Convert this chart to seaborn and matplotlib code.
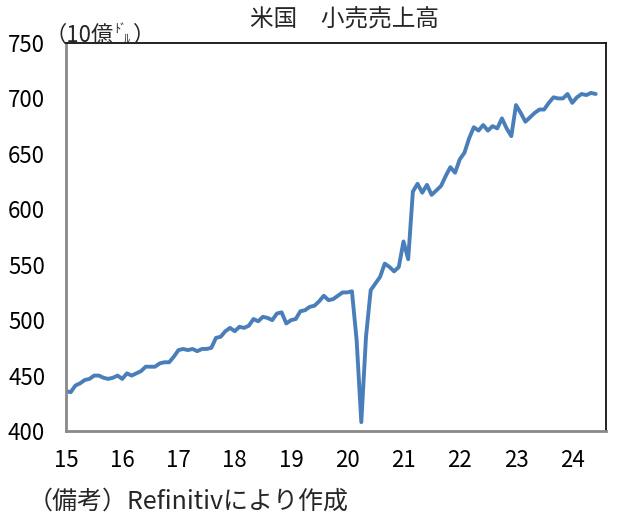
import numpy as np
import pandas as pd
import matplotlib
matplotlib.use("Agg")
import matplotlib.pyplot as plt
import seaborn as sns

# Monthly US retail sales (billion USD), Jan 2015 - Jun 2024
sales_2015 = [436, 435, 441, 443, 446, 447, 450, 450, 448, 447, 448, 450]
sales_2016 = [447, 452, 450, 452, 454, 458, 458, 458, 461, 462, 462, 467]
sales_2017 = [473, 474, 473, 474, 472, 474, 474, 475, 484, 485, 490, 493]
sales_2018 = [490, 494, 493, 495, 501, 499, 503, 502, 500, 506, 507, 497]
sales_2019 = [500, 501, 508, 509, 512, 513, 517, 522, 518, 519, 522, 525]
sales_2020 = [525, 526, 482, 408, 485, 527, 533, 539, 551, 548, 544, 548]
sales_2021 = [571, 555, 616, 623, 615, 622, 613, 617, 621, 630, 638, 633]
sales_2022 = [645, 651, 664, 674, 671, 676, 671, 675, 673, 682, 673, 666]
sales_2023 = [694, 687, 679, 683, 687, 690, 690, 696, 701, 700, 700, 704]
sales_2024 = [696, 701, 704, 703, 705, 704]

year_ticks = list(range(2015, 2025))
year_labels = [str(y)[2:] for y in year_ticks]
y_ticks = [400, 450, 500, 550, 600, 650, 700, 750]

sales = (sales_2015 + sales_2016 + sales_2017 + sales_2018 + sales_2019
         + sales_2020 + sales_2021 + sales_2022 + sales_2023 + sales_2024)
df = pd.DataFrame({"t": 2015 + np.arange(len(sales)) / 12, "sales": sales})

sns.set_style("white")
plt.rcParams["font.family"] = ["Noto Sans CJK JP", "DejaVu Sans"]

W, H = 617, 519
fig = plt.figure(figsize=(W / 100, H / 100), dpi=100)
ax = fig.add_axes([66 / W, 1 - 431 / H, (606 - 66) / W, (431 - 43) / H])

sns.lineplot(data=df, x="t", y="sales", ax=ax, color="#4a7ebb", linewidth=2.8,
             solid_capstyle="round", solid_joinstyle="round")

ax.set_xlim(2015, 2024.6)
ax.set_ylim(400, 750)
ax.set_xticks(year_ticks)
ax.set_xticklabels(year_labels)
ax.set_yticks(y_ticks)
ax.set_xlabel("")
ax.set_ylabel("")

for side in ["left", "bottom"]:
    ax.spines[side].set_color("#898989")
    ax.spines[side].set_linewidth(2)
for side in ["top", "right"]:
    ax.spines[side].set_color("#111111")
    ax.spines[side].set_linewidth(1.3)

ax.tick_params(axis="both", direction="out", length=5, width=1.8, color="#898989",
               labelsize=16, labelcolor="black")
ax.tick_params(axis="y", pad=10)
ax.tick_params(axis="x", pad=8)

def px(x, y):
    return x / W, 1 - y / H

fig.text(*px(345, 20), "米国　小売売上高", fontsize=17, ha="center", va="center")
fig.text(*px(44, 42), "（10億", fontsize=16, ha="left", va="baseline")
fig.text(*px(114, 33), "ﾄﾞ", fontsize=9, ha="left", va="baseline")
fig.text(*px(124, 43), "ﾙ", fontsize=9, ha="left", va="baseline")
fig.text(*px(133, 42), "）", fontsize=16, ha="left", va="baseline")
fig.text(*px(28, 509), "（備考）Refinitivにより作成", fontsize=18, ha="left", va="baseline")

fig.savefig("out.png", dpi=100)
